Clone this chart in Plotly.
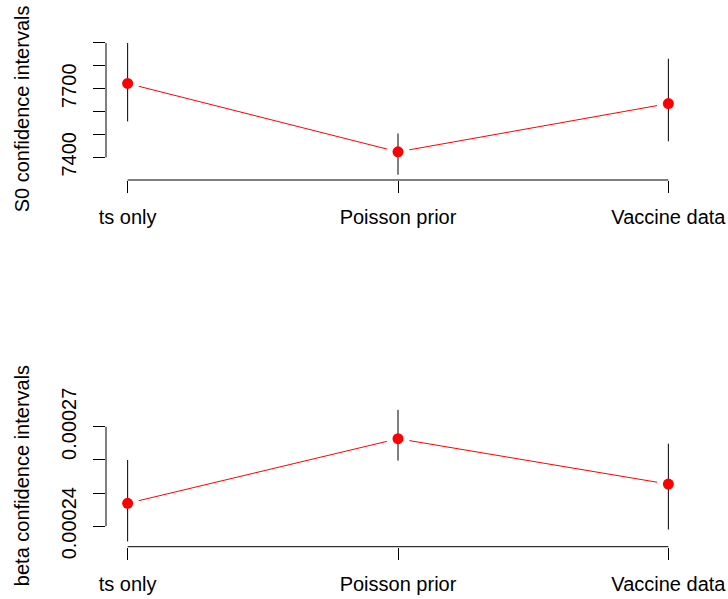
import plotly.graph_objects as go

categories = ["ts only", "Poisson prior", "Vaccine data"]
s0_est = [7723, 7424, 7635]
s0_lo = [7557, 7324, 7470]
s0_hi = [7900, 7504, 7831]
s0_ticks = [7400, 7500, 7600, 7700, 7800, 7900]
s0_ticktext = ["7400", "", "", "7700", "", ""]

beta_est = [0.0002469, 0.0002664, 0.0002527]
beta_lo = [0.0002354, 0.0002598, 0.0002390]
beta_hi = [0.0002600, 0.0002751, 0.0002649]
beta_ticks = [0.00024, 0.00025, 0.00026, 0.00027]
beta_ticktext = ["0.00024", "", "", "0.00027"]

x_pos = [1, 2, 3]

W, H = 728, 599
ML, MR = 106.4, 38.4
FONT = "Liberation Sans, Arial, Helvetica, sans-serif"
FS = 20


def rrange(lo, hi):
    d = hi - lo
    return [lo - 0.04 * d, hi + 0.04 * d]


fig = go.Figure()


def add_panel(est, lo, hi, xa, ya):
    fig.add_trace(go.Scatter(x=x_pos, y=est, mode="lines",
                             line=dict(color="#FF0000", width=1),
                             xaxis=xa, yaxis=ya, hoverinfo="skip"))
    fig.add_trace(go.Scatter(x=x_pos, y=est, mode="markers",
                             marker=dict(color="white", size=23, line=dict(width=0)),
                             xaxis=xa, yaxis=ya, hoverinfo="skip"))
    fig.add_trace(go.Scatter(x=x_pos, y=est, mode="markers",
                             marker=dict(color="rgba(0,0,0,0)", size=1),
                             error_y=dict(type="data", symmetric=False,
                                          array=[h - e for h, e in zip(hi, est)],
                                          arrayminus=[e - l for e, l in zip(est, lo)],
                                          width=0, thickness=1, color="black"),
                             xaxis=xa, yaxis=ya, hoverinfo="skip"))
    fig.add_trace(go.Scatter(x=x_pos, y=est, mode="markers",
                             marker=dict(color="#FF0000", size=11, line=dict(width=0)),
                             xaxis=xa, yaxis=ya, hoverinfo="skip"))


add_panel(s0_est, s0_lo, s0_hi, "x", "y")
add_panel(beta_est, beta_lo, beta_hi, "x2", "y2")

top_dom = [1 - 180 / H, 1 - 37.7 / H]
bot_dom = [1 - 546.7 / H, 1 - 404.6 / H]

xcommon = dict(range=[0.92, 3.08], tickvals=x_pos, ticktext=categories,
               ticks="outside", ticklen=12, tickwidth=1, tickcolor="black",
               showline=False, showgrid=False, zeroline=False,
               tickfont=dict(family=FONT, size=FS, color="black"),
               ticklabelstandoff=7, automargin=False, fixedrange=True)
ycommon = dict(ticks="outside", ticklen=12, tickwidth=1, tickcolor="black",
               showline=False, showgrid=False, zeroline=False, tickangle=-90,
               tickfont=dict(family=FONT, size=FS, color="black"),
               ticklabelstandoff=9, automargin=False, fixedrange=True)

fig.update_layout(
    width=W, height=H,
    margin=dict(l=ML, r=MR, t=0, b=0, pad=0),
    paper_bgcolor="white", plot_bgcolor="white",
    template="none", showlegend=False,
    xaxis=dict(domain=[0, 1], anchor="y", **xcommon),
    yaxis=dict(domain=top_dom, anchor="x", range=rrange(min(s0_lo), max(s0_hi)),
               tickvals=s0_ticks, ticktext=s0_ticktext, **ycommon),
    xaxis2=dict(domain=[0, 1], anchor="y2", **xcommon),
    yaxis2=dict(domain=bot_dom, anchor="x2", range=rrange(min(beta_lo), max(beta_hi)),
                tickvals=beta_ticks, ticktext=beta_ticktext, **ycommon),
)

for xa, ya, ticks in [("x", "y", s0_ticks), ("x2", "y2", beta_ticks)]:
    fig.add_shape(type="line", xref=xa, yref=ya + " domain", x0=x_pos[0], x1=x_pos[-1],
                  y0=0, y1=0, line=dict(color="black", width=1))
    fig.add_shape(type="line", xref=xa + " domain", yref=ya, x0=0, x1=0,
                  y0=ticks[0], y1=ticks[-1], line=dict(color="black", width=1))

plot_w = W - ML - MR
title_x = (22 - ML) / plot_w
for ya, txt in [("y", "S0 confidence intervals"), ("y2", "beta confidence intervals")]:
    fig.add_annotation(text=txt, xref="paper", yref=ya + " domain", x=title_x, y=0.5,
                       xanchor="center", yanchor="middle", textangle=-90, showarrow=False,
                       font=dict(family=FONT, size=FS, color="black"))

fig.write_html("out.html", config={"displayModeBar": False},
               post_script="document.body.style.margin='0';document.body.style.overflow='hidden';")
